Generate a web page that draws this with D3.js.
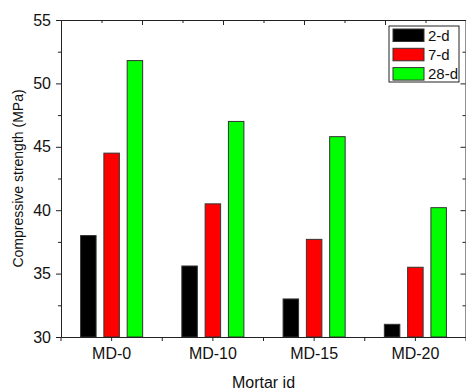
<!DOCTYPE html>
<html>
<head>
<meta charset="utf-8">
<script src="https://cdn.jsdelivr.net/npm/d3@7"></script>
<style>
  body { margin: 0; background: #fff; }
  svg { display: block; font-family: "Liberation Sans", Arial, sans-serif; }
  .axis path, .axis line { stroke: #222; }
</style>
</head>
<body>
<div id="chart"></div>
<script>
// data
const categories = ['MD-0', 'MD-10', 'MD-15', 'MD-20'];
const seriesNames = ['2-d', '7-d', '28-d'];
const day2 = [38.0, 35.6, 33.0, 31.0];
const day7 = [44.5, 40.5, 37.7, 35.5];
const day28 = [51.8, 47.0, 45.8, 40.2];
const colors = ['#000000', '#ff0000', '#00ff00'];
const yTicks = [30, 35, 40, 45, 50, 55];

const width = 466, height = 390;
const margin = { top: 20, right: 0, bottom: 53, left: 61 };

const svg = d3.select('#chart').append('svg')
    .attr('width', width)
    .attr('height', height);

const x0 = d3.scaleBand(categories, [margin.left, width - margin.right])
    .paddingInner(0.31)
    .paddingOuter(0.155);
const x1 = d3.scaleBand(seriesNames, [0, x0.bandwidth()])
    .paddingInner(0.335)
    .paddingOuter(0.1675);
const y = d3.scaleLinear([30, 55], [height - margin.bottom, margin.top]);

const table = categories.map((c, i) => ({
    cat: c,
    vals: [day2[i], day7[i], day28[i]].map((v, j) => ({ name: seriesNames[j], v, color: colors[j] }))
}));

// bars
svg.append('g').selectAll('g')
    .data(table)
    .join('g')
    .attr('transform', d => `translate(${x0(d.cat)},0)`)
    .selectAll('rect')
    .data(d => d.vals)
    .join('rect')
    .attr('x', d => x1(d.name))
    .attr('y', d => y(d.v))
    .attr('width', x1.bandwidth())
    .attr('height', d => y(30) - y(d.v))
    .attr('fill', d => d.color)
    .attr('stroke', '#333')
    .attr('stroke-width', 1);

const yMinor = d3.range(32.5, 55, 5);
const fontTick = '16px';

// left axis
const leftAxis = svg.append('g').attr('class', 'axis')
    .attr('transform', `translate(${margin.left},0)`);
leftAxis.call(d3.axisLeft(y).tickValues(yTicks).tickSize(5).tickPadding(5))
    .call(g => g.selectAll('text').style('font-size', fontTick).attr('fill', '#111'));
leftAxis.append('g').call(d3.axisLeft(y).tickValues(yMinor).tickSize(3).tickFormat(''))
    .call(g => g.select('.domain').remove());

// right axis (ticks inward)
const rightAxis = svg.append('g').attr('class', 'axis')
    .attr('transform', `translate(${width - margin.right - 0.5},0)`);
rightAxis.call(d3.axisLeft(y).tickValues(yTicks).tickSize(5).tickFormat(''))
    .call(g => g.select('.domain').attr('d', `M0.5,${y(30)}V${y(55)}`));
rightAxis.append('g').call(d3.axisLeft(y).tickValues(yMinor).tickSize(3).tickFormat(''))
    .call(g => g.select('.domain').remove());

// bottom axis
const bottomAxis = svg.append('g').attr('class', 'axis')
    .attr('transform', `translate(0,${y(30)})`);
bottomAxis.call(d3.axisBottom(x0).tickSize(4).tickSizeOuter(0).tickPadding(7))
    .call(g => g.selectAll('text').style('font-size', fontTick).attr('fill', '#111'));
const bounds = d3.range(categories.length + 1).map(i => margin.left + i * x0.step());
bottomAxis.append('g').selectAll('line')
    .data(bounds)
    .join('line')
    .attr('x1', d => d).attr('x2', d => d)
    .attr('y1', 0).attr('y2', 4)
    .attr('stroke', '#222');

// top axis (mirrored linear frame)
const xTop = d3.scaleLinear([0, 5], [margin.left, width - margin.right]);
const topAxis = svg.append('g').attr('class', 'axis')
    .attr('transform', `translate(0,${margin.top})`);
topAxis.call(d3.axisTop(xTop).ticks(5).tickSize(-5).tickSizeOuter(0).tickFormat(''));
topAxis.append('g').call(d3.axisTop(xTop).tickValues(d3.range(0.5, 5, 1)).tickSize(-3).tickFormat(''))
    .call(g => g.select('.domain').remove());

// axis labels
svg.append('text')
    .attr('x', (margin.left + width - margin.right) / 2)
    .attr('y', 388)
    .attr('text-anchor', 'middle')
    .style('font-size', '16px')
    .attr('fill', '#111')
    .text('Mortar id');

svg.append('text')
    .attr('transform', 'rotate(-90)')
    .attr('x', -(margin.top + height - margin.bottom) / 2)
    .attr('y', 23)
    .attr('text-anchor', 'middle')
    .style('font-size', '14px')
    .attr('fill', '#111')
    .text('Compressive strength (MPa)');

// legend
const legend = svg.append('g').attr('transform', 'translate(389,26)');
legend.append('rect')
    .attr('width', 70).attr('height', 56)
    .attr('fill', '#fff').attr('stroke', '#222');
const items = legend.selectAll('g.item')
    .data(seriesNames)
    .join('g')
    .attr('class', 'item')
    .attr('transform', (d, i) => `translate(4,${3 + i * 19.3})`);
items.append('rect')
    .attr('width', 31).attr('height', 12.5)
    .attr('fill', (d, i) => colors[i])
    .attr('stroke', '#333');
items.append('text')
    .attr('x', 35).attr('y', 11.5)
    .style('font-size', '15px')
    .attr('fill', '#111')
    .text(d => d);
</script>
</body>
</html>
